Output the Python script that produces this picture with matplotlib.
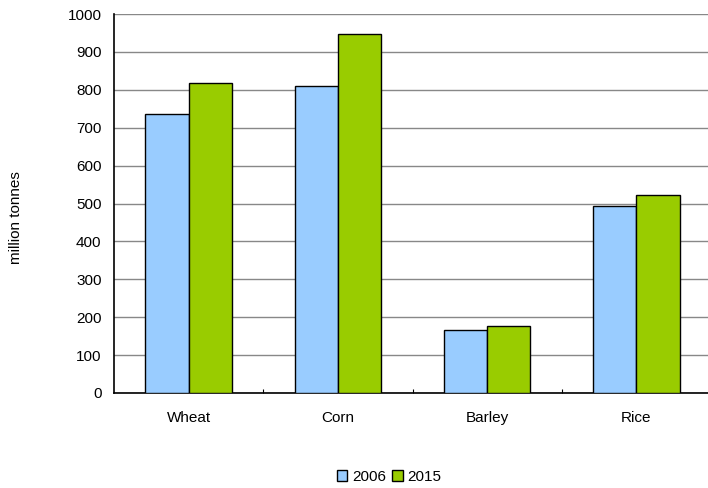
import matplotlib.pyplot as plt
import numpy as np

plt.rcParams['font.family'] = ['Liberation Sans', 'DejaVu Sans']

# 谷物产量（百万吨）
crops = ['Wheat', 'Corn', 'Barley', 'Rice']
years = ['2006', '2015']
prod_2006 = [737, 810, 166, 493]
prod_2015 = [818, 948, 177, 522]
colors = ['#99CCFF', '#99CC00']

fig = plt.figure(figsize=(7.08, 4.88), dpi=100)
ax = fig.add_axes([114/708, 1 - 393/488, 597/708, 379/488])

x = np.arange(len(crops))
w = 0.29
ax.bar(x - w/2, prod_2006, w, color=colors[0], edgecolor='black', linewidth=1, label=years[0], zorder=3)
ax.bar(x + w/2, prod_2015, w, color=colors[1], edgecolor='black', linewidth=1, label=years[1], zorder=3)

ax.set_xlim(-0.5, len(crops) - 0.5)
ax.set_ylim(0, 1000)
ax.set_yticks(range(0, 1001, 100))
ax.set_xticks(x)
ax.set_xticklabels(crops)
ax.set_xticks(np.arange(0.5, len(crops) - 0.5, 1), minor=True)
ax.tick_params(axis='x', which='major', length=0, pad=13, labelsize=11)
ax.tick_params(axis='x', which='minor', direction='in', length=3, width=0.8)
ax.tick_params(axis='y', length=0, pad=9, labelsize=11)

ax.grid(axis='y', color='#888888', linewidth=1, zorder=0)
for s in ['top', 'right']:
    ax.spines[s].set_visible(False)
ax.spines['left'].set_linewidth(1.2)
ax.spines['bottom'].set_linewidth(1.2)

fig.text(16/708, 1 - 218/488, 'million tonnes', rotation=90, ha='center', va='center', fontsize=11)

fig.legend(loc='center', bbox_to_anchor=(389/708, 1 - 477/488), ncol=2, frameon=False,
           fontsize=11, handlelength=0.7, handleheight=0.7, handletextpad=0.3, columnspacing=0.4)

plt.savefig('out.png', dpi=100)
